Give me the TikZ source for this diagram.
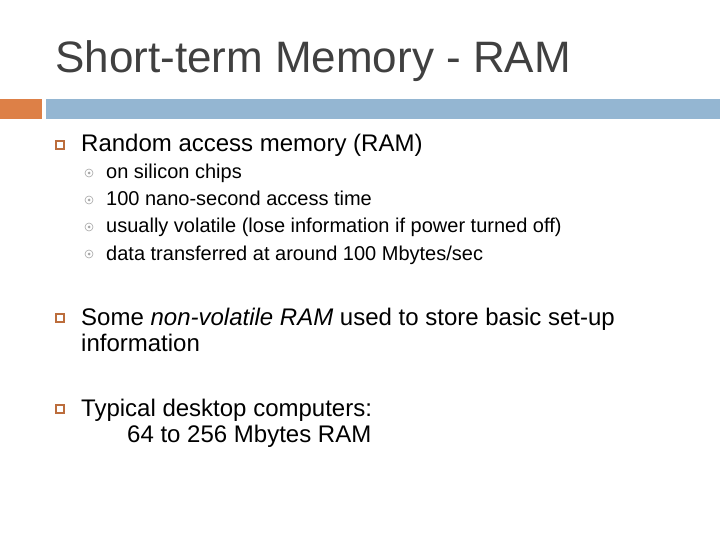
\documentclass[tikz,border=0pt]{standalone}
\usepackage{fontspec}
\setmainfont{Liberation Sans}
\definecolor{barO}{HTML}{DD8047}
\definecolor{barB}{HTML}{94B6D2}
\begin{document}
\begin{tikzpicture}[x=1pt,y=-1pt,
 t1/.style={anchor=base west,inner sep=0,font=\fontsize{24}{28}\selectfont,align=left},
 t2/.style={anchor=base west,inner sep=0,font=\fontsize{20}{24}\selectfont},
 sq/.style={draw=barO!85!black,line width=1.4pt,minimum size=8pt,inner sep=0},
 ci/.style={circle,draw=gray!70,line width=0.6pt,minimum size=8pt,inner sep=0,
   path picture={\fill[gray!70] (path picture bounding box.center) circle (1.5pt);}}]
\useasboundingbox (0,0) rectangle (720,540);
\node[anchor=base west,inner sep=0,font=\fontsize{44}{50}\selectfont,text=black!75] (title) at (55,73) {Short-term Memory - RAM};
\fill[barO] (0,99) rectangle (42,119);
\fill[barB] (46,99) rectangle (720,119);
\node[sq] (b1) at (60,145) {};
\node[t1] (l1) at (81,152) {Random access memory (RAM)};
\node[ci] (c1) at (89,173) {}; \node[t2] (s1) at (106,179) {on silicon chips};
\node[ci] (c2) at (89,200) {}; \node[t2] (s2) at (106,206) {100 nano-second access time};
\node[ci] (c3) at (89,227) {}; \node[t2] (s3) at (106,233) {usually volatile (lose information if power turned off)};
\node[ci] (c4) at (89,254) {}; \node[t2] (s4) at (106,260) {data transferred at around 100 Mbytes/sec};
\node[sq] (b2) at (60,318) {};
\node[t1] (l2) at (81,325) {Some \textit{non-volatile RAM} used to store basic set-up};
\node[t1] (l2b) at (81,351) {information};
\node[sq] (b3) at (60,409) {};
\node[t1] (l3) at (81,416) {Typical desktop computers:};
\node[t1] (l3b) at (127,442) {64 to 256 Mbytes RAM};
\end{tikzpicture}
\end{document}
